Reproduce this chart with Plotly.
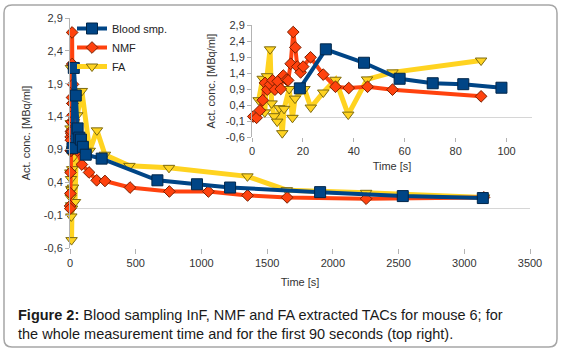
import plotly.graph_objects as go

# ---------------- data ----------------
blood_t = [18.8, 29, 44, 58, 71, 83, 98, 120, 241, 665, 966, 1218, 1903, 2532, 3141]
blood_v = [0.92, 2.14, 1.72, 1.22, 1.08, 1.05, 0.94, 0.82, 0.76, 0.43, 0.37, 0.32, 0.25, 0.19, 0.16]

nmf_t = [0.5, 1.8, 3.1, 4.2, 5.1, 6.0, 7.1, 8.1, 9.0, 10.1, 11.3, 12.3, 13.6, 14.2, 15.2,
         16.2, 17.0, 17.8, 19.1, 20.1, 23.0, 28.0, 32.8, 38.0, 45.4, 55.2, 90.0,
         145, 203, 266, 457, 756, 1053, 1351, 1652, 2253, 3150]
nmf_v = [0.04, 0.0, 0.23, 0.55, 1.09, 0.88, 1.04, 1.17, 0.88, 1.14, 0.9, 1.32, 1.19, 1.17, 1.69,
         2.68, 2.2, 1.6, 1.42, 1.6, 1.89, 1.35, 0.97, 0.93, 0.97, 0.88, 0.67,
         0.55, 0.43, 0.42, 0.32, 0.26, 0.26, 0.2, 0.17, 0.15, 0.17]

fa_t = [2.6, 4.2, 5.0, 5.9, 7.1, 7.7, 8.7, 9.9, 10.7, 11.9, 12.6, 14.6, 15.9, 16.9, 20.6,
        23.1, 28.0, 32.8, 37.8, 45.2, 55.2, 90, 150, 205, 266, 452, 753, 1350, 1650, 2253, 3150]
fa_v = [0.55, 1.22, 0.17, 1.3, 2.14, 0.45, 0.05, -0.12, 0.3, -0.48, 0.28, 0.9, 0.0, 0.6, 0.9,
        0.32, 0.79, 1.19, 0.1, 1.2, 1.42, 1.79, 0.88, 1.19, 0.82, 0.65, 0.62, 0.49, 0.28, 0.24, 0.17]

y_ticks = [-0.6, -0.1, 0.4, 0.9, 1.4, 1.9, 2.4, 2.9]
y_ticktext = [f"{v:.1f}".replace(".", ",") for v in y_ticks]
x_ticks_main = [0, 500, 1000, 1500, 2000, 2500, 3000, 3500]
x_ticks_inset = [0, 20, 40, 60, 80, 100]
inset_max_t = 100

series_names = ["FA", "NMF", "Blood smp."]
caption = ("<b>Figure 2:</b> Blood sampling InF, NMF and FA extracted TACs for mouse 6; for<br>"
           "the whole measurement time and for the first 90 seconds (top right).")

# ---------------- geometry helpers ----------------
W, H = 564, 351
ML, MR, MT, MB = 70, 32, 18, 103
PW = W - ML - MR
PH = H - MT - MB


def px(x):
    return (x - ML) / PW


def py(y):
    return (H - MB - y) / PH


FONT = "Liberation Sans, Arial, sans-serif"
TXT = "#333333"
AXC = "#b3b3b3"

styles = {
    "FA": dict(line=dict(color="#ffd320", width=5),
               marker=dict(symbol="triangle-down", size=10, color="#ffd320",
                           line=dict(color="#7d6a10", width=1))),
    "NMF": dict(line=dict(color="#ff420e", width=4),
                marker=dict(symbol="diamond", size=9, color="#ff420e",
                            line=dict(color="#7a2000", width=1))),
    "Blood smp.": dict(line=dict(color="#004586", width=4),
                       marker=dict(symbol="square", size=11, color="#004586",
                                   line=dict(color="#00264a", width=1))),
}
data = {"FA": (fa_t, fa_v), "NMF": (nmf_t, nmf_v), "Blood smp.": (blood_t, blood_v)}

fig = go.Figure()
for name in series_names:
    t, v = data[name]
    fig.add_trace(go.Scatter(x=t, y=v, name=name, mode="lines+markers",
                             xaxis="x", yaxis="y", cliponaxis=False, **styles[name]))
for name in series_names:
    t, v = data[name]
    ti = [a for a in t if a <= inset_max_t]
    vi = [b for a, b in zip(t, v) if a <= inset_max_t]
    fig.add_trace(go.Scatter(x=ti, y=vi, name=name, mode="lines+markers", showlegend=False,
                             xaxis="x2", yaxis="y2", cliponaxis=False, **styles[name]))

tickfont = dict(family=FONT, size=11, color=TXT)
titlefont = dict(family=FONT, size=11, color=TXT)

# rounded frame
x0, y0, x1, y1, r = 4, 5, 557, 347, 8
pts = lambda x, y: f"{px(x):.5f},{py(y):.5f}"
frame_path = (f"M {pts(x0 + r, y0)} L {pts(x1 - r, y0)} Q {pts(x1, y0)} {pts(x1, y0 + r)} "
              f"L {pts(x1, y1 - r)} Q {pts(x1, y1)} {pts(x1 - r, y1)} "
              f"L {pts(x0 + r, y1)} Q {pts(x0, y1)} {pts(x0, y1 - r)} "
              f"L {pts(x0, y0 + r)} Q {pts(x0, y0)} {pts(x0 + r, y0)} Z")

fig.update_layout(
    width=W, height=H,
    margin=dict(l=ML, r=MR, t=MT, b=MB, autoexpand=False),
    paper_bgcolor="white", plot_bgcolor="white",
    font=dict(family=FONT, size=11, color=TXT),
    showlegend=True,
    hovermode=False,
    legend=dict(x=px(72), y=py(14), xanchor="left", yanchor="top",
                bgcolor="rgba(0,0,0,0)", traceorder="reversed",
                font=dict(family=FONT, size=11, color="#222222"),
                tracegroupgap=0, itemwidth=30),
    xaxis=dict(domain=[0, (530 - ML) / PW], range=[0, 3500], tickvals=x_ticks_main,
               showgrid=False, zeroline=False, showline=False, automargin=False,
               ticks="outside", ticklen=5, tickcolor=AXC, tickfont=tickfont,
               title=dict(text="Time [s]", font=titlefont, standoff=10), anchor="y"),
    yaxis=dict(domain=[0, 1], range=[-0.6, 2.9], tickvals=y_ticks, ticktext=y_ticktext,
               showgrid=False, zeroline=True, zerolinecolor="#d6d6d6", zerolinewidth=1,
               showline=True, linecolor=AXC, linewidth=1, automargin=False,
               ticks="outside", ticklen=4, tickcolor=AXC, tickfont=tickfont,
               title=dict(text="Act. conc. [MBq/ml]", font=titlefont, standoff=10), anchor="x"),
    xaxis2=dict(domain=[px(252), 1], range=[0, 110], tickvals=x_ticks_inset,
                showgrid=False, zeroline=False, showline=False, automargin=False,
                ticks="outside", ticklen=4, tickcolor=AXC, tickfont=tickfont,
                title=dict(text="Time [s]", font=titlefont, standoff=6), anchor="y2"),
    yaxis2=dict(domain=[py(137), py(25)], range=[-0.6, 2.9], tickvals=y_ticks, ticktext=y_ticktext,
                showgrid=False, zeroline=True, zerolinecolor="#d6d6d6", zerolinewidth=1,
                showline=True, linecolor=AXC, linewidth=1, automargin=False,
                ticks="outside", ticklen=4, tickcolor=AXC, tickfont=tickfont,
                title=dict(text="Act. conc. [MBq/ml]", font=titlefont, standoff=7), anchor="x2"),
    shapes=[dict(type="path", xref="paper", yref="paper", path=frame_path,
                 line=dict(color="#a6a6a6", width=1.5), layer="above")],
    annotations=[dict(text=caption, xref="paper", yref="paper", x=px(16), y=py(305),
                      xanchor="left", yanchor="top", align="left", showarrow=False,
                      font=dict(family=FONT, size=14.5, color="#1a1a1a"))],
)

fig.write_html("out.html", config={"displayModeBar": False},
               post_script="document.body.style.margin='0';")
